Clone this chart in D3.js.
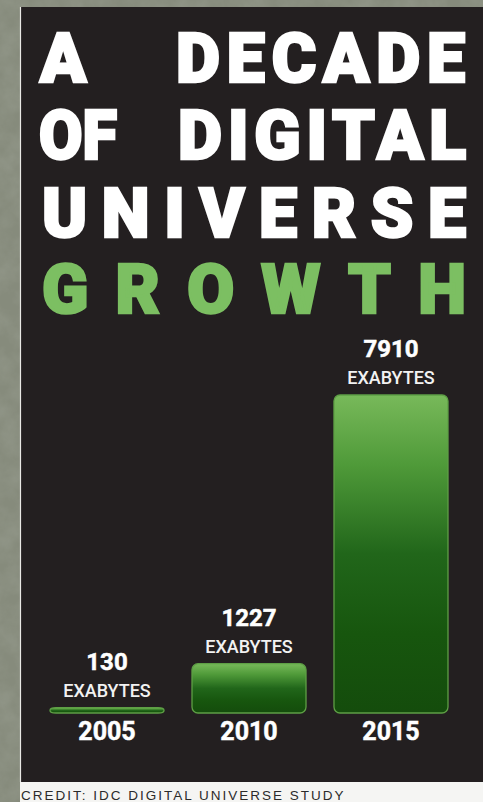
<!DOCTYPE html>
<html>
<head>
<meta charset="utf-8">
<script src="https://cdn.jsdelivr.net/npm/d3@7/dist/d3.min.js"></script>
<style>
  html, body { margin: 0; padding: 0; background: #878d7e; }
  svg { display: block; }
</style>
</head>
<body>
<div id="chart"></div>
<script>
// Data: worldwide digital universe size, in exabytes
const years = ["2005", "2010", "2015"];
const values = [130, 1227, 7910];
const unitLabel = "EXABYTES";

// Title words, line by line
const titleLines = [
  ["A", "DECADE"],
  ["OF", "DIGITAL"],
  ["UNIVERSE"],
  ["GROWTH"]
];
const creditText = "CREDIT: IDC DIGITAL UNIVERSE STUDY";

const W = 483, H = 802;
const svg = d3.select("#chart").append("svg")
  .attr("width", W).attr("height", H);

const defs = svg.append("defs");

// stone-like texture for the backdrop
const tex = defs.append("filter").attr("id", "stone")
  .attr("x", 0).attr("y", 0).attr("width", "100%").attr("height", "100%");
tex.append("feTurbulence").attr("type", "fractalNoise")
  .attr("baseFrequency", "0.045").attr("numOctaves", 4).attr("seed", 7);
tex.append("feColorMatrix").attr("type", "matrix")
  .attr("values", "0 0 0 0 0.45  0 0 0 0 0.48  0 0 0 0 0.42  1.0 0 0 0 -0.3");

// bar gradient: bright green at the top to deep green at the base
const grad = defs.append("linearGradient").attr("id", "barGrad")
  .attr("x1", 0).attr("y1", 0).attr("x2", 0).attr("y2", 1);
[[0, "#78b95a"], [0.22, "#4f9a39"], [0.5, "#21661a"], [0.75, "#17560e"], [1, "#144c0c"]]
  .forEach(([o, c]) => grad.append("stop").attr("offset", o).attr("stop-color", c));

// backdrop
svg.append("rect").attr("width", W).attr("height", H).attr("fill", "#868b7c");
svg.append("rect").attr("width", W).attr("height", H).attr("filter", "url(#stone)").attr("opacity", 0.4);

// dark panel
const panel = { x: 20, y: 7, x1: W, y1: 782 };
svg.append("rect")
  .attr("x", panel.x).attr("y", panel.y)
  .attr("width", panel.x1 - panel.x).attr("height", panel.y1 - panel.y)
  .attr("fill", "#231f20");
svg.append("line")
  .attr("x1", panel.x + 0.5).attr("x2", panel.x + 0.5)
  .attr("y1", panel.y).attr("y2", panel.y1)
  .attr("stroke", "#e8e8e4").attr("stroke-width", 1.2);

// credit strip
svg.append("rect")
  .attr("x", panel.x).attr("y", panel.y1)
  .attr("width", W - panel.x).attr("height", H - panel.y1)
  .attr("fill", "#f5f5f3");
svg.append("text")
  .attr("x", 21).attr("y", 800)
  .attr("font-family", "'Liberation Sans', Arial, sans-serif")
  .attr("font-size", 13.5)
  .attr("letter-spacing", 2.0)
  .attr("fill", "#2b2b2b")
  .text(creditText);

// title: each word justified between its own left and right edges
const titleFont = "Roboto, 'Liberation Sans', sans-serif";
const titleSize = 68;
const baselines = [82, 159, 237, 313];
const wordSpans = [
  [[40, null], [176, 465]],
  [[39, 117], [178, 466]],
  [[42, 466]],
  [[42, 466]]
];
titleLines.forEach((words, li) => {
  const col = li === 3 ? "#7cbf62" : "#ffffff";
  words.forEach((w, wi) => {
    const [x0, x1] = wordSpans[li][wi];
    const t = svg.append("text")
      .attr("x", x0).attr("y", baselines[li])
      .attr("font-family", titleFont)
      .attr("font-weight", 900)
      .attr("font-size", titleSize)
      .attr("fill", col)
      .attr("stroke", col)
      .attr("stroke-width", 2.6)
      .attr("stroke-linejoin", "miter")
      .text(w);
    if (x1 !== null) {
      t.attr("textLength", x1 - x0).attr("lengthAdjust", w.length > 2 ? "spacing" : "spacingAndGlyphs");
    }
  });
});

// scales
const x = d3.scaleBand()
  .domain(years)
  .range([50, 448])
  .paddingInner(0.197)
  .paddingOuter(0);
const baseY = 713;
const y = d3.scaleLinear()
  .domain([0, d3.max(values)])
  .range([baseY, 395]);

const data = years.map((yr, i) => ({ year: yr, value: values[i] }));

// bars
svg.append("g").selectAll("rect")
  .data(data)
  .join("rect")
  .attr("x", d => x(d.year))
  .attr("y", d => y(d.value))
  .attr("width", x.bandwidth())
  .attr("height", d => baseY - y(d.value))
  .attr("rx", 6).attr("ry", 6)
  .attr("fill", "url(#barGrad)")
  .attr("stroke", "#5e9f45")
  .attr("stroke-width", 1.3);

const labelFont = "Roboto, 'Liberation Sans', sans-serif";

// value labels
const lab = svg.append("g").attr("text-anchor", "middle").attr("fill", "#ffffff")
  .attr("font-family", labelFont);
lab.selectAll("text.val")
  .data(data)
  .join("text")
  .attr("class", "val")
  .attr("x", d => x(d.year) + x.bandwidth() / 2)
  .attr("y", d => y(d.value) - 38)
  .attr("font-size", 24)
  .attr("font-weight", 700)
  .attr("stroke", "#ffffff").attr("stroke-width", 0.5)
  .text(d => d.value);
lab.selectAll("text.unit")
  .data(data)
  .join("text")
  .attr("class", "unit")
  .attr("x", d => x(d.year) + x.bandwidth() / 2)
  .attr("y", d => y(d.value) - 11)
  .attr("font-size", 18)
  .attr("font-weight", 500)
  .attr("fill", "#f2f2f2")
  .text(unitLabel);

// category axis (years under the bars)
const axis = svg.append("g")
  .attr("transform", `translate(0,${baseY})`)
  .call(d3.axisBottom(x).tickSize(0).tickPadding(0));
axis.select(".domain").remove();
axis.selectAll("text")
  .attr("dy", 0)
  .attr("y", 27)
  .attr("fill", "#ffffff")
  .attr("stroke", "#ffffff").attr("stroke-width", 0.5)
  .attr("font-family", labelFont)
  .attr("font-size", 25)
  .attr("font-weight", 700);
</script>
</body>
</html>
